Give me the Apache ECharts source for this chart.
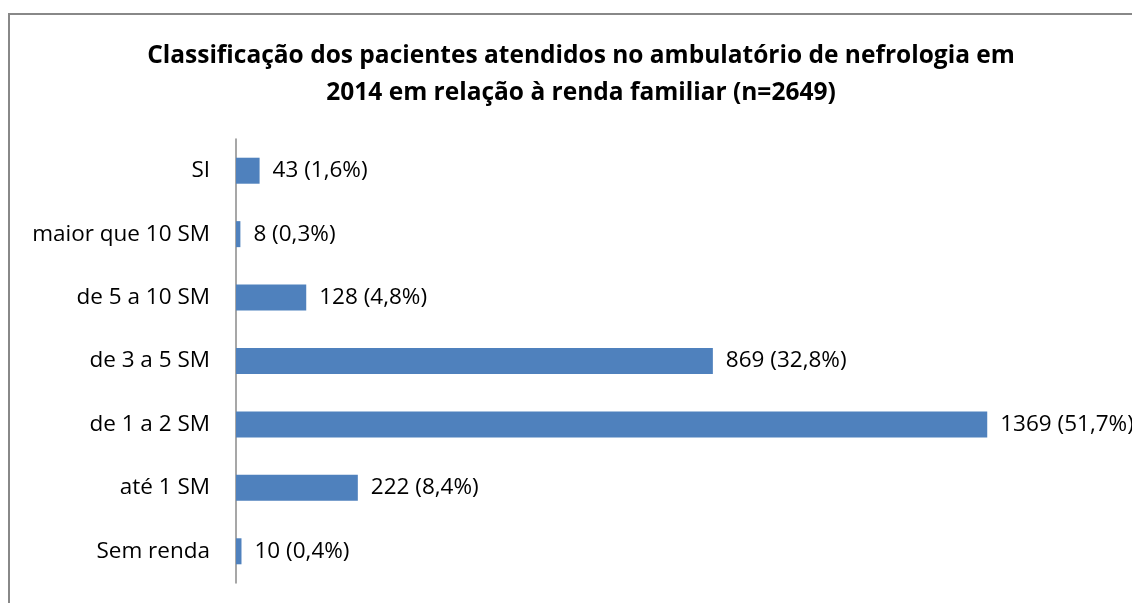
<!DOCTYPE html>
<html>
<head>
<meta charset="utf-8">
<script src="https://cdn.jsdelivr.net/npm/echarts@6/dist/echarts.min.js"></script>
<style>html,body{margin:0;padding:0;background:#fff;}#c{width:1132px;height:603px;}</style>
</head>
<body>
<div id="c"></div>
<script>
const titleText = 'Classificação dos pacientes atendidos no ambulatório de nefrologia em\n2014 em relação à renda familiar (n=2649)';
const categories = ['Sem renda', 'até 1 SM', 'de 1 a 2 SM', 'de 3 a 5 SM', 'de 5 a 10 SM', 'maior que 10 SM', 'SI'];
const values = [10, 222, 1369, 869, 128, 8, 43];
const percents = ['0,4%', '8,4%', '51,7%', '32,8%', '4,8%', '0,3%', '1,6%'];

const chart = echarts.init(document.getElementById('c'), null, {renderer: 'canvas'});
const FONT = '"Open Sans", sans-serif';
chart.setOption({
  animation: false,
  backgroundColor: '#fff',
  title: {
    text: titleText,
    left: 576,
    textAlign: 'center',
    top: 33,
    textStyle: {fontFamily: FONT, fontWeight: 'bold', fontSize: 24.5, lineHeight: 37, color: '#000'}
  },
  grid: {left: 236, right: 18, top: 139, bottom: 20, containLabel: false},
  xAxis: {
    type: 'value', min: 0, max: 1600, interval: 200,
    show: false
  },
  yAxis: {
    type: 'category', data: categories,
    axisLine: {show: true, lineStyle: {color: '#8a8a8a', width: 1.5}},
    axisTick: {show: false},
    axisLabel: {fontFamily: FONT, fontSize: 22.5, color: '#000', margin: 26}
  },
  series: [{
    type: 'bar',
    data: values,
    barWidth: '41%',
    itemStyle: {color: '#4F81BD'},
    label: {
      show: true, position: 'right', distance: 13,
      fontFamily: FONT, fontSize: 22.5, color: '#000',
      formatter: p => values[p.dataIndex] + ' (' + percents[p.dataIndex] + ')'
    }
  }],
  graphic: [{
    type: 'rect', silent: true,
    shape: {x: 9, y: 14, width: 1200, height: 700},
    style: {fill: 'none', stroke: '#888', lineWidth: 2}
  }]
});
</script>
</body>
</html>
